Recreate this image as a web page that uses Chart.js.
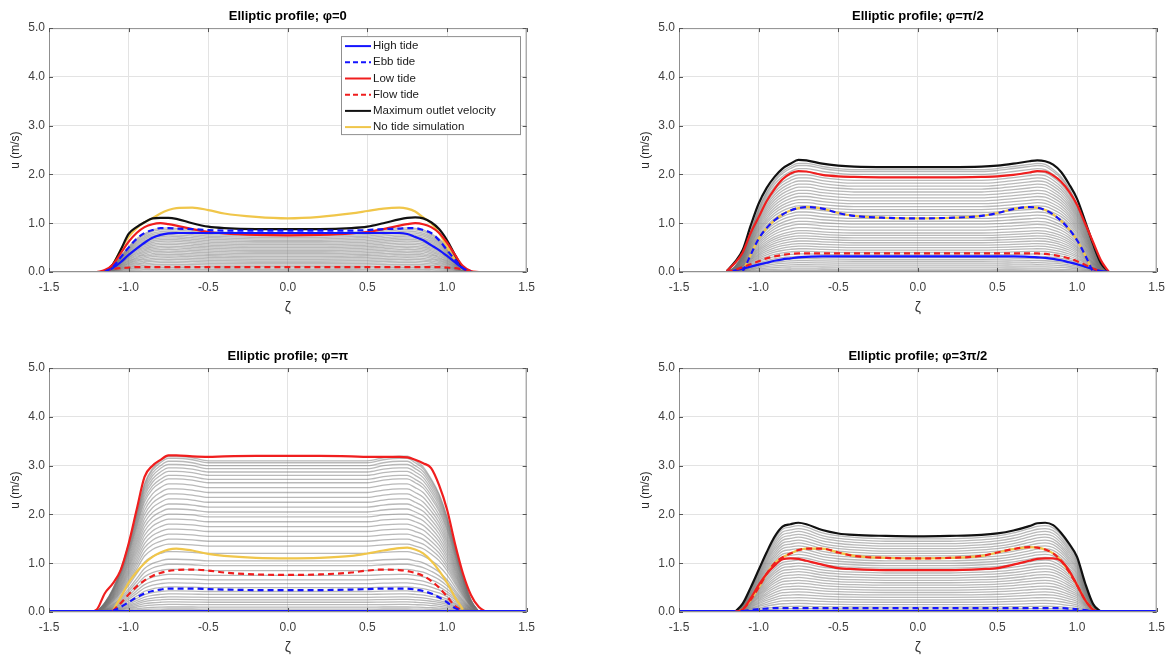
<!DOCTYPE html>
<html>
<head>
<meta charset="utf-8">
<script src="https://cdn.jsdelivr.net/npm/chart.js@4.4.0/dist/chart.umd.min.js"></script>
<style>
  html, body { margin: 0; padding: 0; background: #fff; overflow: hidden; }
  .panel { position: absolute; width: 543px; height: 330px; }
</style>
</head>
<body>
<div class="panel" style="left:0;top:0"><canvas id="c0" width="543" height="330"></canvas></div>
<div class="panel" style="left:630px;top:0"><canvas id="c1" width="543" height="330"></canvas></div>
<div class="panel" style="left:0;top:340px"><canvas id="c2" width="543" height="330"></canvas></div>
<div class="panel" style="left:630px;top:340px"><canvas id="c3" width="543" height="330"></canvas></div>
<script>
// shared grid of ζ positions
const zeta = [-1.25,-1.2,-1.15,-1.1,-1.05,-1.0,-0.95,-0.9,-0.85,-0.8,-0.75,
  -0.7,-0.6,-0.5,-0.4,-0.2,0,0.2,0.4,0.5,0.6,0.7,
  0.75,0.8,0.85,0.9,0.95,1.0,1.05,1.1,1.15,1.2,1.25];
const zetaFull = [-1.5, 1.5];
const xTicks = [-1.5, -1.0, -0.5, 0.0, 0.5, 1.0, 1.5];
const uTicks = [0, 1, 2, 3, 4, 5];

const titles = ["Elliptic profile; \u03c6=0", "Elliptic profile; \u03c6=\u03c0/2",
  "Elliptic profile; \u03c6=\u03c0", "Elliptic profile; \u03c6=3\u03c0/2"];
const legendLabels = ["High tide", "Ebb tide", "Low tide", "Flow tide",
  "Maximum outlet velocity", "No tide simulation"];

// ---- phi = 0
const p0NoTide = [null,null,0,0.15,0.45,0.72,0.9,1.02,1.1,1.2,1.27,
  1.31,1.32,1.27,1.2,1.13,1.1,1.13,1.2,1.25,1.3,1.32,
  1.3,1.24,1.12,1.0,0.8,0.52,0.25,0.05,null,null,null];
const p0Max = [null,null,0,0.15,0.45,0.78,0.92,1.02,1.1,1.11,1.11,
  1.09,1.0,0.93,0.9,0.88,0.88,0.88,0.9,0.93,1.0,1.08,
  1.11,1.12,1.1,1.02,0.88,0.65,0.35,0.08,0,null,null];
const p0Low = [null,0,0.04,0.15,0.38,0.62,0.8,0.92,0.98,1.0,0.98,
  0.95,0.88,0.82,0.79,0.76,0.75,0.76,0.79,0.82,0.88,0.95,
  0.98,1.0,0.98,0.92,0.8,0.6,0.35,0.12,0.02,0,null];
const p0Ebb = [null,null,0,0.1,0.3,0.5,0.68,0.8,0.86,0.9,0.9,
  0.89,0.88,0.86,0.85,0.85,0.85,0.85,0.85,0.86,0.88,0.89,
  0.9,0.9,0.86,0.8,0.65,0.45,0.25,0.08,0,null,null];
const p0High = [null,null,0,0.08,0.2,0.35,0.48,0.6,0.7,0.76,0.79,
  0.8,0.8,0.8,0.8,0.8,0.8,0.8,0.8,0.8,0.8,0.8,
  0.78,0.72,0.65,0.55,0.45,0.33,0.2,0.07,0,null,null];
const p0Flow = [null,null,0.02,0.06,0.08,0.09,0.1,0.1,0.1,0.1,0.1,
  0.1,0.1,0.1,0.1,0.1,0.1,0.1,0.1,0.1,0.1,0.1,
  0.1,0.1,0.1,0.1,0.1,0.09,0.08,0.05,0.02,null,null];
const p0GrayShape = [null,null,0,0.15,0.4,0.65,0.85,0.98,1.08,1.12,1.13,
  1.12,1.08,1.04,1.02,1.0,1.0,1.0,1.02,1.04,1.08,1.12,
  1.13,1.12,1.08,0.98,0.85,0.65,0.4,0.15,0,null,null];
const p0GrayLevels = [0.02,0.05,0.08,0.11,0.14,0.17,0.2,0.23,0.26,0.29,0.32,0.35,0.38,
  0.41,0.44,0.47,0.5,0.53,0.56,0.59,0.62,0.65,0.68,0.71,0.74,0.77,0.8];

// ---- phi = pi/2
const p1Max = [null,0.02,0.2,0.45,0.95,1.4,1.72,1.95,2.12,2.22,2.3,
  2.29,2.22,2.18,2.16,2.15,2.15,2.15,2.16,2.18,2.22,2.27,
  2.29,2.27,2.2,2.05,1.8,1.5,1.05,0.58,0.18,0,null];
const p1Low = [null,0.02,0.18,0.4,0.8,1.12,1.45,1.7,1.9,2.02,2.07,
  2.06,1.99,1.96,1.95,1.94,1.94,1.94,1.95,1.96,1.99,2.04,
  2.07,2.06,1.98,1.85,1.65,1.38,1.0,0.62,0.24,0,null];
const p1NoTide = [null,null,null,0,0.35,0.68,0.9,1.06,1.18,1.26,1.31,
  1.33,1.3,1.21,1.15,1.11,1.1,1.11,1.15,1.21,1.29,1.33,
  1.32,1.27,1.18,1.05,0.88,0.65,0.35,0,null,null,null];
const p1Ebb = [null,null,null,0,0.35,0.68,0.9,1.06,1.18,1.26,1.31,
  1.33,1.3,1.21,1.15,1.11,1.1,1.11,1.15,1.21,1.29,1.33,
  1.32,1.27,1.18,1.05,0.88,0.65,0.35,0,null,null,null];
const p1Flow = [null,0,0.04,0.1,0.16,0.22,0.28,0.32,0.35,0.37,0.38,
  0.38,0.38,0.38,0.38,0.38,0.38,0.38,0.38,0.38,0.38,0.38,
  0.38,0.37,0.35,0.32,0.28,0.22,0.15,0.07,0.02,null,null];
const p1High = [null,0,0.03,0.07,0.11,0.15,0.19,0.23,0.26,0.28,0.3,
  0.31,0.32,0.32,0.32,0.32,0.32,0.32,0.32,0.32,0.32,0.31,
  0.3,0.29,0.27,0.24,0.2,0.16,0.11,0.06,0.02,0,null];
const p1GrayShape = [null,0,0.05,0.18,0.4,0.62,0.78,0.9,0.98,1.03,1.06,
  1.06,1.03,1.01,1.0,1.0,1.0,1.0,1.0,1.01,1.03,1.05,
  1.06,1.05,1.0,0.93,0.82,0.66,0.46,0.26,0.08,0,null];
const p1GrayLevels = [0.03,0.06,0.1,0.14,0.18,0.22,0.26,0.3,0.35,0.4,0.45,0.5,0.55,0.6,
  0.65,0.7,0.75,0.8,0.86,0.92,0.98,1.04,1.1,1.16,1.22,1.28,1.34,1.4,1.46,1.52,1.58,
  1.64,1.7,1.76,1.82,1.88,1.94,2.0,2.06,2.1];

// ---- phi = pi
const p2Low = [0,0.05,0.38,0.58,0.86,1.4,2.09,2.77,3.0,3.12,3.21,
  3.21,3.19,3.18,3.19,3.2,3.2,3.2,3.19,3.18,3.18,3.18,
  3.17,3.12,3.05,2.95,2.6,2.1,1.4,0.79,0.35,0.1,0];
const p2NoTide = [null,null,null,0.02,0.3,0.6,0.82,1.0,1.13,1.22,1.28,
  1.3,1.26,1.19,1.15,1.11,1.1,1.11,1.15,1.2,1.26,1.31,
  1.32,1.28,1.2,1.05,0.85,0.6,0.3,0.05,null,null,null];
const p2Flow = [null,null,null,0.02,0.18,0.36,0.52,0.65,0.74,0.8,0.84,
  0.86,0.87,0.85,0.81,0.77,0.76,0.77,0.81,0.85,0.87,0.86,
  0.84,0.8,0.74,0.64,0.5,0.32,0.12,0.02,null,null,null];
const p2Ebb = [null,null,null,0.02,0.1,0.2,0.3,0.38,0.43,0.46,0.48,
  0.48,0.48,0.47,0.46,0.45,0.45,0.45,0.46,0.47,0.48,0.48,
  0.48,0.46,0.43,0.38,0.3,0.2,0.08,0.02,null,null,null];
const p2High = [0.02, 0.02];
const p2GrayShape = [null,0,0.06,0.15,0.28,0.45,0.65,0.85,0.95,1.0,1.03,
  1.03,1.02,1.0,1.0,1.0,1.0,1.0,1.0,1.0,1.02,1.03,
  1.03,1.0,0.96,0.88,0.78,0.63,0.43,0.24,0.08,0,null];
const p2GrayLevels = [0.03,0.06,0.1,0.15,0.2,0.25,0.3,0.36,0.42,0.5,0.58,0.66,0.75,0.85,
  0.95,1.05,1.2,1.35,1.45,1.55,1.65,1.75,1.85,1.95,2.05,2.15,2.25,2.35,2.45,2.55,2.65,
  2.72,2.8,2.87,2.94,3.0,3.06,3.1];

// ---- phi = 3pi/2
const p3Max = [null,null,0,0.17,0.5,0.86,1.22,1.54,1.75,1.8,1.83,
  1.8,1.68,1.61,1.58,1.56,1.55,1.56,1.58,1.61,1.67,1.76,
  1.82,1.83,1.78,1.62,1.4,1.13,0.6,0.17,0,null,null];
const p3Low = [null,null,0,0.05,0.28,0.55,0.78,0.95,1.08,1.1,1.09,
  1.05,0.97,0.9,0.88,0.86,0.86,0.86,0.88,0.9,0.97,1.05,
  1.09,1.1,1.1,1.05,0.85,0.55,0.25,0.05,0,null,null];
const p3Flow = [null,null,0,0.05,0.25,0.5,0.78,1.0,1.12,1.2,1.27,
  1.3,1.3,1.22,1.15,1.11,1.1,1.11,1.15,1.22,1.29,1.33,
  1.32,1.28,1.2,1.05,0.82,0.55,0.25,0.05,null,null,null];
const p3NoTide = [null,null,0,0.05,0.25,0.5,0.78,1.0,1.12,1.2,1.27,
  1.3,1.3,1.22,1.15,1.11,1.1,1.11,1.15,1.22,1.29,1.33,
  1.32,1.28,1.2,1.05,0.82,0.55,0.25,0.05,null,null,null];
const p3Ebb = [null,null,null,0.02,0.04,0.06,0.07,0.08,0.08,0.08,0.08,
  0.08,0.08,0.08,0.08,0.08,0.08,0.08,0.08,0.08,0.08,0.08,
  0.08,0.08,0.08,0.08,0.07,0.06,0.04,0.02,null,null,null];
const p3High = [0.02, 0.02];
const p3GrayShape = [null,null,0,0.11,0.32,0.55,0.79,0.99,1.13,1.16,1.18,
  1.16,1.08,1.04,1.02,1.0,1.0,1.0,1.02,1.04,1.08,1.14,
  1.17,1.18,1.15,1.05,0.9,0.73,0.39,0.11,0,null,null];
const p3GrayLevels = [0.03,0.06,0.1,0.15,0.2,0.25,0.3,0.35,0.4,0.45,0.5,0.55,0.6,0.65,
  0.7,0.75,0.8,0.85,0.9,0.95,1.0,1.05,1.1,1.15,1.2,1.25,1.3,1.35,1.4,1.45,1.5];

const BLUE = "#1414ff";
const RED = "#f01e1e";
const BLACK = "#111111";
const YELLOW = "#f0c64a";
const GRAY = "rgba(115,115,115,0.5)";
const FONT = "'Liberation Sans', Arial, Helvetica, sans-serif";

function pts(xs, ys) {
  return xs.map((x, i) => ({ x: x, y: ys[i] })).filter((p) => p.y !== null);
}

function curve(ys, color, dashed, order, xs) {
  return {
    data: pts(xs || zeta, ys),
    borderColor: color,
    borderWidth: 2.2,
    borderDash: dashed ? [6, 4] : [],
    pointRadius: 0,
    showLine: true,
    cubicInterpolationMode: "monotone",
    order: order,
  };
}

function grays(shape, levels) {
  return levels.map((lv) => ({
    data: pts(zeta, shape.map((s) => (s === null ? null : s * lv))),
    borderColor: GRAY,
    borderWidth: 1.3,
    pointRadius: 0,
    showLine: true,
    cubicInterpolationMode: "monotone",
    order: 9,
  }));
}

// box + inward ticks like matlab, plus legend in the first panel
const frame = {
  id: "frame",
  afterDraw(chart, args, opts) {
    const { ctx, chartArea: a, scales } = chart;
    ctx.save();
    ctx.strokeStyle = "#8f8f8f";
    ctx.lineWidth = 1;
    ctx.setLineDash([]);
    ctx.strokeRect(a.left + 0.5, a.top + 0.5, a.right - a.left - 1, a.bottom - a.top - 1);
    ctx.strokeStyle = "#555";
    ctx.beginPath();
    xTicks.forEach((v) => {
      const px = Math.round(scales.x.getPixelForValue(v)) + 0.5;
      ctx.moveTo(px, a.bottom); ctx.lineTo(px, a.bottom - 4);
      ctx.moveTo(px, a.top); ctx.lineTo(px, a.top + 4);
    });
    uTicks.forEach((v) => {
      const py = Math.round(scales.y.getPixelForValue(v)) + 0.5;
      ctx.moveTo(a.left, py); ctx.lineTo(a.left + 4, py);
      ctx.moveTo(a.right, py); ctx.lineTo(a.right - 4, py);
    });
    ctx.stroke();

    if (opts.legend) {
      const styles = [[BLUE, false], [BLUE, true], [RED, false], [RED, true], [BLACK, false], [YELLOW, false]];
      const x0 = 341, y0 = a.top + 8, w = 179, h = 98;
      ctx.fillStyle = "#fff";
      ctx.fillRect(x0, y0, w, h);
      ctx.strokeStyle = "#8f8f8f";
      ctx.strokeRect(x0 + 0.5, y0 + 0.5, w, h);
      ctx.font = "11.5px " + FONT;
      ctx.textBaseline = "middle";
      legendLabels.forEach((lab, i) => {
        const cy = y0 + 10 + i * 16.2;
        ctx.strokeStyle = styles[i][0];
        ctx.lineWidth = 2;
        ctx.setLineDash(styles[i][1] ? [5, 3] : []);
        ctx.beginPath();
        ctx.moveTo(x0 + 4, cy); ctx.lineTo(x0 + 30, cy);
        ctx.stroke();
        ctx.fillStyle = "#1a1a1a";
        ctx.fillText(lab, x0 + 32, cy);
      });
    }
    ctx.restore();
  },
};

function makeChart(id, title, datasets, showLegend) {
  new Chart(document.getElementById(id), {
    type: "scatter",
    data: { datasets: datasets },
    plugins: [frame],
    options: {
      responsive: false,
      animation: false,
      layout: { padding: { left: 0, right: 15, top: 0, bottom: 0 } },
      plugins: {
        legend: { display: false },
        tooltip: { enabled: false },
        title: {
          display: true,
          text: title,
          fullSize: false,
          color: "#000",
          font: { family: FONT, size: 13, weight: "bold" },
          padding: { top: 9, bottom: 3.5 },
        },
        frame: { legend: showLegend },
      },
      scales: {
        x: {
          type: "linear",
          min: -1.5,
          max: 1.5,
          afterBuildTicks: (s) => { s.ticks = xTicks.map((v) => ({ value: v })); },
          ticks: {
            callback: (v) => v.toFixed(1),
            color: "#404040",
            font: { family: FONT, size: 12 },
            padding: 8,
            maxRotation: 0,
            autoSkip: false,
          },
          grid: { color: "#e3e3e3", drawTicks: false },
          border: { display: false },
          title: {
            display: true,
            text: "\u03b6",
            color: "#333",
            font: { family: FONT, size: 14 },
            padding: { top: 0, bottom: 13 },
          },
          afterFit: (s) => { s.height = 58; },
        },
        y: {
          min: 0,
          max: 5,
          afterBuildTicks: (s) => { s.ticks = uTicks.map((v) => ({ value: v })); },
          ticks: {
            callback: (v) => v.toFixed(1),
            color: "#404040",
            font: { family: FONT, size: 12 },
            padding: 4,
          },
          grid: { color: "#e3e3e3", drawTicks: false },
          border: { display: false },
          title: {
            display: true,
            text: "u (m/s)",
            color: "#262626",
            font: { family: FONT, size: 12 },
            padding: { top: 8, bottom: 0 },
          },
          afterFit: (s) => { s.width = 49; },
        },
      },
    },
  });
}

makeChart("c0", titles[0], [
  curve(p0Ebb, BLUE, true, 0),
  curve(p0Flow, RED, true, 0),
  curve(p0High, BLUE, false, 1),
  curve(p0Low, RED, false, 1),
  curve(p0Max, BLACK, false, 2),
  curve(p0NoTide, YELLOW, false, 2),
  ...grays(p0GrayShape, p0GrayLevels),
], true);

makeChart("c1", titles[1], [
  curve(p1Ebb, BLUE, true, 0),
  curve(p1Flow, RED, true, 0),
  curve(p1High, BLUE, false, 1),
  curve(p1Low, RED, false, 1),
  curve(p1Max, BLACK, false, 2),
  curve(p1NoTide, YELLOW, false, 2),
  ...grays(p1GrayShape, p1GrayLevels),
], false);

makeChart("c2", titles[2], [
  curve(p2Ebb, BLUE, true, 0),
  curve(p2Flow, RED, true, 0),
  curve(p2High, BLUE, false, 1, zetaFull),
  curve(p2Low, RED, false, 1),
  curve(p2NoTide, YELLOW, false, 2),
  ...grays(p2GrayShape, p2GrayLevels),
], false);

makeChart("c3", titles[3], [
  curve(p3Ebb, BLUE, true, 0),
  curve(p3Flow, RED, true, 0),
  curve(p3High, BLUE, false, 1, zetaFull),
  curve(p3Low, RED, false, 1),
  curve(p3Max, BLACK, false, 2),
  curve(p3NoTide, YELLOW, false, 3),
  ...grays(p3GrayShape, p3GrayLevels),
], false);
</script>
</body>
</html>
